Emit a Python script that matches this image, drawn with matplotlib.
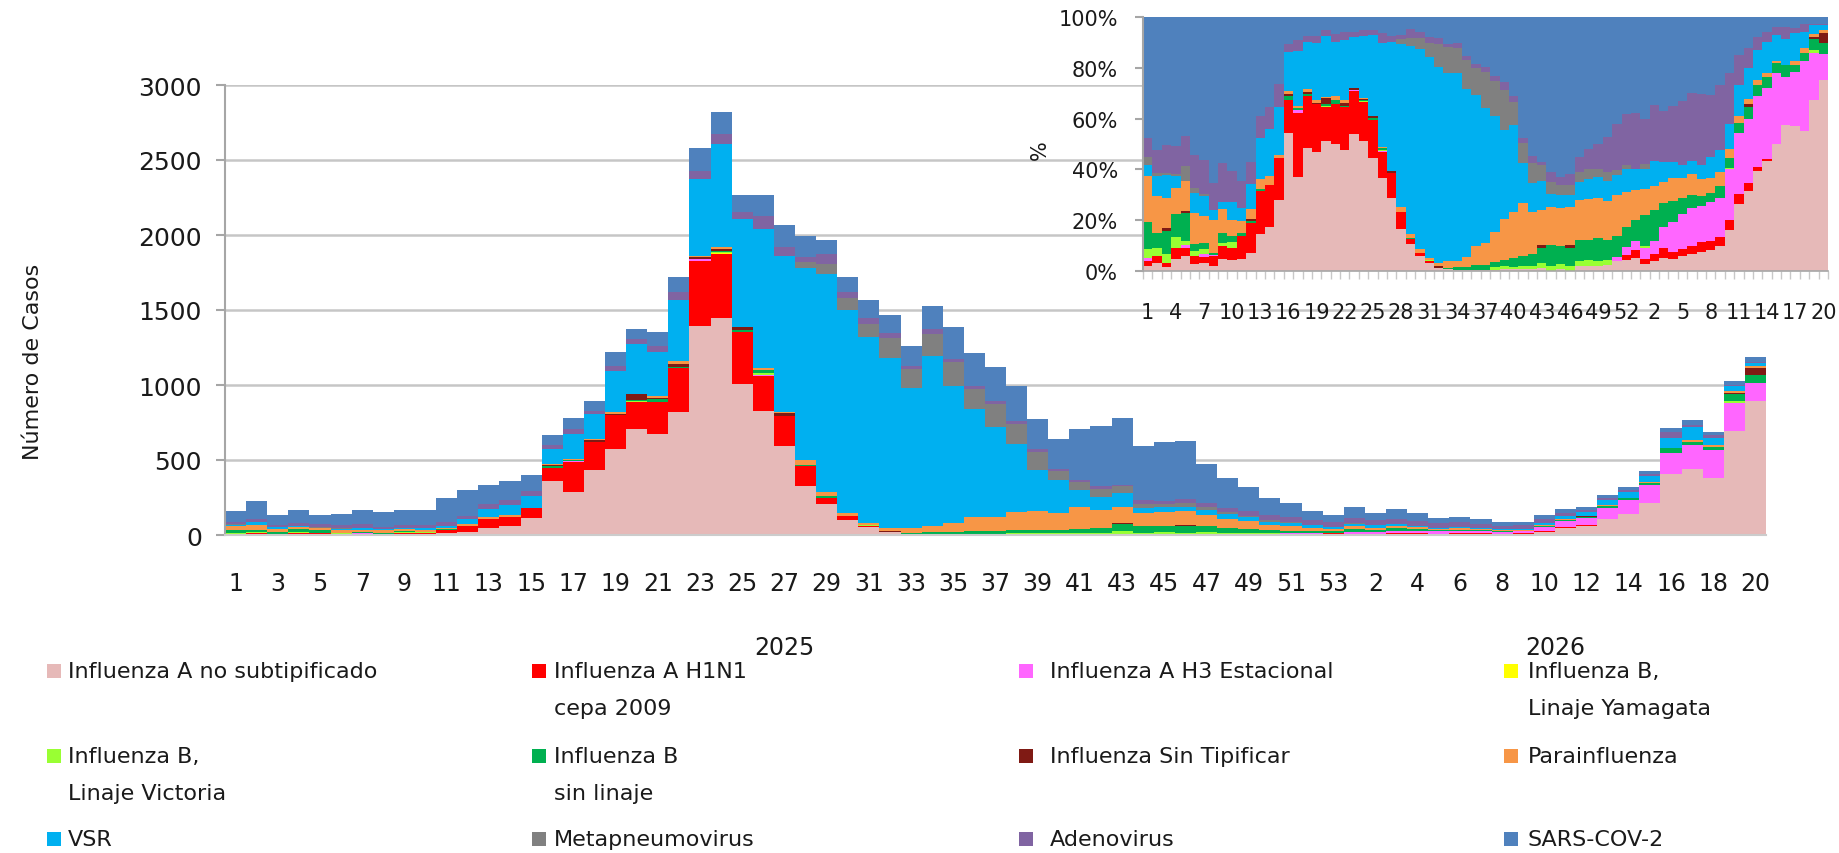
import numpy as np
import matplotlib
matplotlib.use("Agg")
import matplotlib.pyplot as plt
from matplotlib.patches import Rectangle
import matplotlib.transforms as mtransforms

plt.rcParams['font.family'] = ['DejaVu Sans']

# ---------------- data ----------------
weeks_2025 = list(range(1, 54))
weeks_2026 = list(range(1, 21))
week_labels = weeks_2025 + weeks_2026
year_labels = ["2025", "2026"]

series_names = [
    "Influenza A no subtipificado", "Influenza A H1N1\ncepa 2009",
    "Influenza A H3 Estacional", "Influenza B,\nLinaje Yamagata",
    "Influenza B,\nLinaje Victoria", "Influenza B\nsin linaje",
    "Influenza Sin Tipificar", "Parainfluenza",
    "VSR", "Metapneumovirus", "Adenovirus", "SARS-COV-2",
]
colors = ["#E6B9B8", "#FF0000", "#FF66FF", "#FFFF00", "#99FF33", "#00B050",
          "#7F1A14", "#F79646", "#00B0F0", "#808080", "#8064A2", "#4F81BD"]

flu_a_nosub = [3, 7, 2, 8, 8, 4, 5, 3, 8, 7,
               12, 21, 49, 62, 113, 362, 289, 435, 573, 706,
               673, 818, 1395, 1444, 1007, 829, 596, 329, 208, 103,
               52, 20, 10, 8, 5, 5, 5, 5, 5, 5,
               5, 5, 8, 0, 6, 0, 10, 8, 6, 6,
               8, 7, 7,
               5, 6, 9, 7, 7, 8, 8, 7, 9, 22,
               46, 60, 104, 138, 213, 410, 440, 377, 691, 892]
flu_a_h1n1 = [3, 6, 2, 7, 4, 4, 4, 6, 8, 8,
              22, 36, 57, 60, 66, 88, 195, 183, 226, 182,
              216, 296, 433, 429, 344, 233, 200, 131, 40, 22,
              10, 0, 0, 0, 0, 0, 0, 0, 0, 0,
              0, 0, 0, 0, 0, 0, 0, 0, 0, 0,
              0, 3, 4,
              4, 4, 7, 4, 3, 4, 4, 3, 3, 5,
              7, 6, 5, 3, 0, 0, 0, 0, 0, 0]
flu_a_h3 = [2, 0, 0, 0, 2, 0, 2, 1, 0, 0,
            0, 0, 0, 0, 0, 0, 8, 0, 0, 0,
            0, 0, 14, 0, 0, 8, 0, 0, 0, 0,
            0, 0, 0, 0, 0, 0, 0, 0, 0, 0,
            0, 0, 0, 0, 0, 0, 0, 0, 0, 0,
            4, 5, 5,
            8, 8, 14, 17, 16, 18, 15, 13, 14, 27,
            42, 48, 74, 90, 119, 135, 161, 190, 190, 124]
flu_b_yamagata = [0, 0, 0, 0, 0, 0, 0, 0, 0, 0,
                  0, 0, 0, 0, 0, 0, 0, 0, 0, 0,
                  0, 0, 0, 5, 0, 0, 0, 0, 0, 0,
                  0, 0, 0, 0, 0, 0, 0, 0, 0, 0,
                  0, 0, 0, 0, 0, 0, 0, 0, 0, 0,
                  0, 0, 0,
                  0, 0, 0, 0, 0, 0, 0, 0, 0, 0,
                  0, 0, 0, 0, 0, 0, 0, 0, 0, 0]
flu_b_victoria = [6, 7, 5, 7, 2, 3, 3, 0, 2, 4,
                  0, 0, 0, 0, 0, 0, 0, 0, 0, 5,
                  0, 0, 0, 7, 0, 12, 0, 0, 0, 0,
                  5, 0, 0, 0, 0, 0, 0, 10, 10, 6,
                  10, 10, 16, 12, 12, 13, 9, 8, 6, 5,
                  0, 0, 0,
                  2, 0, 0, 0, 0, 0, 0, 0, 0, 1,
                  0, 0, 0, 0, 0, 0, 0, 0, 11, 0]
flu_b_sinlinaje = [17, 14, 12, 15, 15, 4, 4, 1, 7, 4,
                   3, 3, 2, 0, 0, 10, 6, 4, 4, 10,
                   18, 4, 0, 8, 17, 20, 0, 6, 10, 0,
                   0, 0, 5, 15, 18, 24, 22, 20, 20, 21,
                   28, 34, 47, 48, 43, 44, 38, 30, 29, 20,
                   17, 13, 11,
                   23, 18, 17, 12, 7, 6, 4, 3, 4, 5,
                   7, 9, 11, 13, 17, 34, 22, 23, 45, 51]
flu_sin_tipificar = [0, 0, 2, 0, 1, 0, 0, 0, 0, 0,
                     0, 2, 0, 0, 0, 5, 0, 10, 4, 34,
                     4, 22, 12, 15, 16, 0, 16, 0, 0, 0,
                     0, 7, 0, 0, 0, 0, 0, 0, 0, 0,
                     0, 0, 8, 0, 0, 7, 0, 0, 0, 0,
                     0, 0, 0,
                     0, 0, 0, 0, 0, 0, 0, 0, 0, 0,
                     0, 2, 0, 0, 0, 0, 0, 0, 11, 45]
parainfluenza = [29, 32, 16, 17, 16, 17, 18, 20, 15, 10,
                 12, 12, 13, 14, 4, 8, 8, 8, 11, 4,
                 18, 22, 8, 10, 0, 10, 6, 34, 26, 22,
                 16, 20, 33, 40, 55, 89, 96, 119, 124, 118,
                 145, 120, 109, 90, 93, 94, 76, 61, 51, 38,
                 34, 22, 16,
                 19, 14, 14, 13, 9, 10, 7, 5, 5, 5,
                 5, 4, 5, 6, 4, 0, 12, 11, 12, 16]
vsr = [7, 18, 12, 8, 0, 11, 13, 6, 5, 12,
       12, 30, 54, 67, 77, 102, 167, 166, 277, 333,
       288, 407, 511, 689, 723, 928, 1044, 1278, 1456, 1355,
       1235, 1132, 934, 1129, 917, 724, 595, 452, 273, 218,
       112, 83, 89, 30, 31, 31, 33, 30, 26, 20,
       17, 14, 11,
       15, 15, 14, 9, 6, 6, 6, 7, 8, 13,
       21, 23, 32, 38, 43, 71, 85, 45, 33, 22]
metapneumovirus = [5, 3, 1, 1, 8, 3, 1, 0, 0, 0,
                   0, 0, 0, 0, 0, 0, 0, 0, 0, 0,
                   0, 0, 0, 0, 0, 0, 0, 44, 67, 76,
                   89, 133, 127, 149, 156, 130, 156, 134, 122, 60,
                   56, 58, 47, 27, 25, 25, 19, 15, 10, 8,
                   4, 3, 0,
                   4, 0, 0, 0, 0, 0, 0, 0, 0, 0,
                   0, 0, 0, 0, 0, 0, 0, 0, 0, 0]
adenovirus = [12, 20, 15, 18, 16, 18, 22, 17, 25, 20,
              27, 26, 30, 31, 36, 22, 34, 23, 34, 33,
              45, 49, 56, 66, 44, 84, 56, 29, 66, 44,
              37, 36, 18, 34, 22, 20, 22, 22, 22, 14,
              14, 19, 10, 24, 19, 25, 28, 30, 32, 35,
              38, 32, 30,
              34, 33, 35, 32, 29, 32, 29, 21, 23, 27,
              21, 15, 13, 13, 13, 36, 16, 22, 6, 5]
sars_cov_2 = [76, 118, 68, 84, 63, 76, 93, 101, 95, 100,
              159, 172, 130, 128, 106, 70, 71, 66, 89, 68,
              89, 104, 149, 145, 118, 145, 151, 140, 94, 100,
              121, 120, 133, 155, 212, 223, 222, 229, 200, 200,
              337, 400, 444, 363, 389, 390, 261, 198, 160, 118,
              89, 61, 51,
              76, 52, 65, 51, 38, 36, 32, 26, 24, 30,
              26, 23, 21, 19, 17, 27, 33, 18, 28, 33]

series = [flu_a_nosub, flu_a_h1n1, flu_a_h3, flu_b_yamagata, flu_b_victoria,
          flu_b_sinlinaje, flu_sin_tipificar, parainfluenza, vsr,
          metapneumovirus, adenovirus, sars_cov_2]

# ---------------- layout helpers ----------------
W, H = 1840, 854
fig = plt.figure(figsize=(W / 100, H / 100), dpi=100)
fig.patch.set_facecolor("white")


def fx(px):
    return px / W


def fy(py):
    return 1 - py / H


TXT = "#1a1a1a"
AXC = "#A6A6A6"
n = len(week_labels)
x = np.arange(1, n + 1)
data = np.array(series, dtype=float)

# ---------------- main chart ----------------
ax = fig.add_axes([fx(225), fy(536), fx(1766) - fx(225), fy(86) - fy(536)])
bottom = np.zeros(n)
for vals, col in zip(data, colors):
    ax.bar(x, vals, width=1.0, bottom=bottom, color=col, linewidth=0, zorder=2)
    bottom += vals
ax.set_xlim(0.5, n + 0.5)
ax.set_ylim(0, 3000)
ax.set_yticks(range(0, 3001, 500))
ax.yaxis.grid(True, color="#C6C6C6", lw=1.8, zorder=0)
ax.set_axisbelow(True)
for s in ["top", "right"]:
    ax.spines[s].set_visible(False)
ax.spines["left"].set_color(AXC)
ax.spines["left"].set_linewidth(1.5)
ax.spines["bottom"].set_color("#CCCCCC")
ax.spines["bottom"].set_linewidth(1.5)
ax.tick_params(axis="y", length=6.5, width=1.5, color=AXC, pad=10,
               labelsize=18, labelcolor=TXT)
tick_pos = x[::2]
ax.set_xticks(tick_pos)
ax.set_xticklabels([str(week_labels[i - 1]) for i in tick_pos])
ax.tick_params(axis="x", length=0, pad=26, labelsize=17, labelcolor=TXT)

blend = mtransforms.blended_transform_factory(ax.transData, fig.transFigure)
ax.text((1 + 53) / 2, fy(648), year_labels[0], transform=blend, ha="center",
        va="center", fontsize=17, color=TXT)
ax.text((54 + n) / 2, fy(648), year_labels[1], transform=blend, ha="center",
        va="center", fontsize=17, color=TXT)

fig.text(fx(33), fy(362), "Número de Casos", rotation=90, ha="center",
         va="center", fontsize=16, color=TXT)

# ---------------- inset (100 % stacked) ----------------
axi = fig.add_axes([fx(1143), fy(272), fx(1828) - fx(1143), fy(18) - fy(272)])
axi.set_facecolor("white")
totals = data.sum(axis=0)
pct = data / totals * 100
bottom = np.zeros(n)
for vals, col in zip(pct, colors):
    axi.bar(x, vals, width=1.0, bottom=bottom, color=col, linewidth=0, zorder=2)
    bottom += vals
axi.set_xlim(0.5, n + 0.5)
axi.set_ylim(0, 100)
axi.set_yticks(range(0, 101, 20))
axi.set_yticklabels([f"{v}%" for v in range(0, 101, 20)])
ipos = x[::3]
axi.set_xticks(ipos)
axi.set_xticklabels([str(week_labels[i - 1]) for i in ipos])
axi.set_xticks(np.arange(0.5, n + 1, 1.0), minor=True)
axi.tick_params(axis="x", which="major", length=0, pad=22, labelsize=15,
                labelcolor=TXT)
axi.tick_params(axis="x", which="minor", length=6, width=1, color="#C8C8C8")
axi.tick_params(axis="y", length=6, width=1.5, color=AXC, pad=12,
                labelsize=15, labelcolor=TXT)
for s in ["top", "right"]:
    axi.spines[s].set_visible(False)
axi.spines["left"].set_color(AXC)
axi.spines["left"].set_linewidth(1.5)
axi.spines["bottom"].set_color(AXC)
axi.spines["bottom"].set_linewidth(1.2)
fig.text(fx(1040), fy(150), "%", rotation=90, ha="center", va="center",
         fontsize=15, color=TXT)

# ---------------- legend (manual grid, 4 columns) ----------------
col_marker_x = [47, 532, 1019, 1504]
col_text_x = [68, 554, 1050, 1528]
row_y = [672, 757, 840]
line_gap = 37
msz = 14
for k, (name, col) in enumerate(zip(series_names, colors)):
    r, c = divmod(k, 4)
    yc = row_y[r]
    fig.patches.append(Rectangle((fx(col_marker_x[c]), fy(yc + msz / 2)),
                                 msz / W, msz / H, transform=fig.transFigure,
                                 facecolor=col, edgecolor="none"))
    for j, line in enumerate(name.split("\n")):
        fig.text(fx(col_text_x[c]), fy(yc + j * line_gap), line, ha="left",
                 va="center", fontsize=16, color=TXT)

fig.savefig("out.png", dpi=100, facecolor="white")
